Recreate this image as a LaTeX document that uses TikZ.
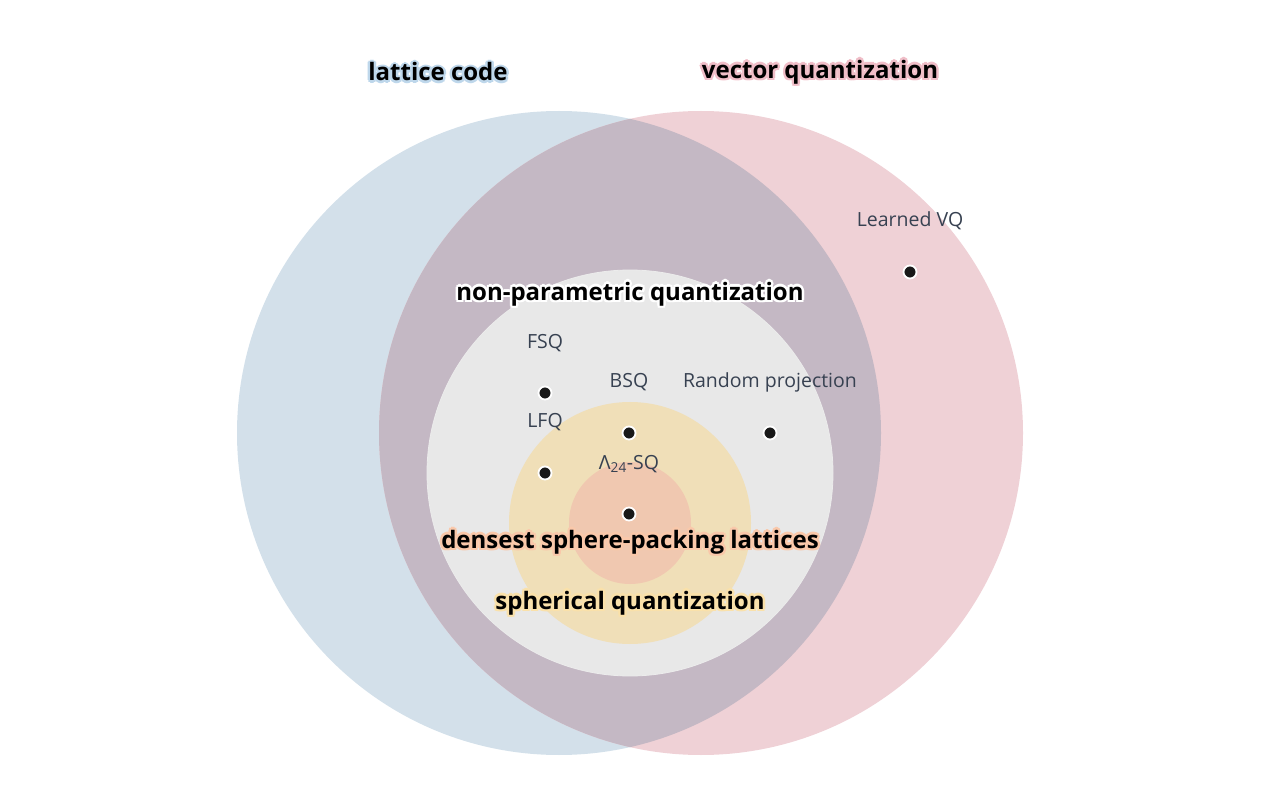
\documentclass[tikz,border=0pt]{standalone}
\usepackage{fontspec}
\setmainfont{Open Sans}
\definecolor{cblue}{RGB}{211,224,234}
\definecolor{cred}{RGB}{239,209,214}
\definecolor{cboth}{RGB}{196,184,196}
\definecolor{cgray}{RGB}{232,232,232}
\definecolor{cyel}{RGB}{240,223,184}
\definecolor{corg}{RGB}{240,200,176}
\definecolor{ctxt}{RGB}{55,65,81}
\definecolor{hblue}{RGB}{190,215,235}
\definecolor{hred}{RGB}{240,190,200}
\definecolor{hwhite}{RGB}{255,255,255}
\definecolor{horg}{RGB}{250,200,170}
\definecolor{hyel}{RGB}{250,225,170}
\newcommand{\halolabel}[5]{% name, x, y, halo colour, text
  \foreach \dx/\dy in {-2.5/0,2.5/0,0/-2.5,0/2.5,-1.8/-1.8,1.8/1.8,-1.8/1.8,1.8/-1.8}
    {\node[bigl,text=#4] at ({#2+\dx},{#3+\dy}) {#5};}
  \node[bigl] (#1) at (#2,#3) {#5};}
\begin{document}
\begin{tikzpicture}[x=1pt,y=-1pt,
  bigl/.style={font=\fontsize{24}{29}\selectfont\bfseries,text=black,inner sep=0},
  small/.style={font=\fontsize{19.5}{23}\selectfont,text=ctxt,inner sep=0},
  dot/.style={circle,fill=black!90,draw=white,line width=1.8pt,minimum size=13pt,inner sep=0}]
\useasboundingbox (0,0) rectangle (1286,794);
\fill[cblue] (559,433) circle (322);
\fill[cred] (701,433) circle (322);
\begin{scope}
\clip (559,433) circle (322);
\fill[cboth] (701,433) circle (322);
\end{scope}
\fill[cgray] (630,473) circle (203);
\draw[white!85!gray,line width=0.8pt] (630,473) circle (203);
\fill[cyel] (630,523) circle (121);
\fill[corg] (630,523) circle (61);
\halolabel{lc}{438}{72}{hblue}{lattice code}
\halolabel{vq}{820}{72}{hred}{vector quantization}
\halolabel{np}{630}{294}{hwhite}{non-parametric quantization}
\halolabel{ds}{630}{542}{horg}{densest sphere-packing lattices}
\halolabel{sq}{630}{603}{hyel}{spherical quantization}
\node[dot] (d1) at (910,272) {};
\node[small] (t1) at (910,221) {Learned VQ};
\node[dot] (d2) at (545,393) {};
\node[small] (t2) at (545,343) {FSQ};
\node[dot] (d3) at (629,433) {};
\node[small] (t3) at (629,382) {BSQ};
\node[dot] (d4) at (770,433) {};
\node[small] (t4) at (770,382) {Random projection};
\node[dot] (d5) at (545,473) {};
\node[small] (t5) at (545,422) {LFQ};
\node[dot] (d6) at (629,514) {};
\node[small] (t6) at (629,464) {Λ\textsubscript{24}-SQ};
\end{tikzpicture}
\end{document}
